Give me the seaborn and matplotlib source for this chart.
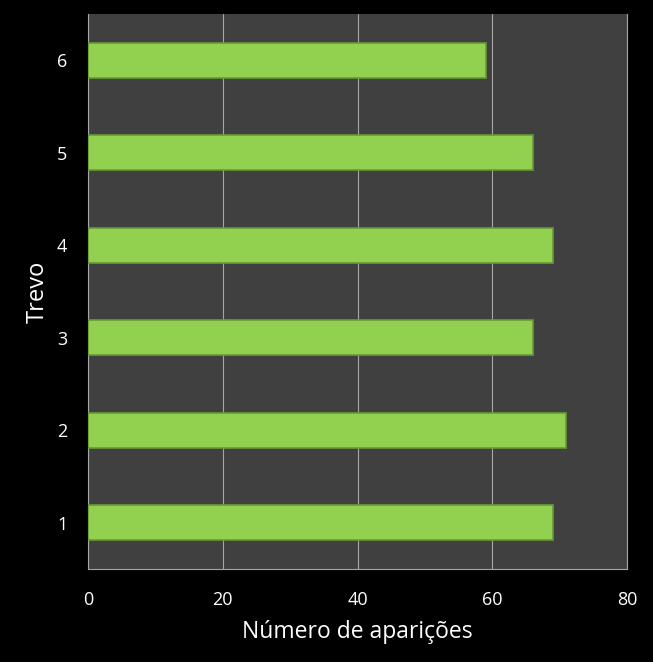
import matplotlib.pyplot as plt
import seaborn as sns
import pandas as pd

trevos = ["1", "2", "3", "4", "5", "6"]
aparicoes = [69, 71, 66, 69, 66, 59]

df = pd.DataFrame({"Trevo": trevos, "Aparicoes": aparicoes})

sns.set_style("dark")
plt.rcParams["font.family"] = ["Open Sans", "DejaVu Sans"]

fig = plt.figure(figsize=(6.53, 6.62), dpi=100, facecolor="black")
ax = fig.add_axes([0.1348, 0.1405, 0.8254, 0.8384])
ax.set_facecolor("#404040")

sns.barplot(data=df, x="Aparicoes", y="Trevo", order=trevos[::-1], orient="h",
            color="#92d050", saturation=1, width=0.38, edgecolor="#6a9a35",
            linewidth=1.2, ax=ax, zorder=3)

ax.set_xlim(0, 80)
ax.set_xticks([0, 20, 40, 60, 80])
ax.set_ylim(5.5, -0.5)
ax.grid(axis="x", color="#a6a6a6", linewidth=0.8, zorder=0)
ax.grid(axis="y", visible=False)
ax.set_axisbelow(True)

for side in ["left", "bottom", "right", "top"]:
    ax.spines[side].set_visible(True)
    ax.spines[side].set_color("#a6a6a6")
    ax.spines[side].set_linewidth(0.8)
ax.spines["top"].set_visible(False)

ax.tick_params(colors="white", labelsize=13, length=0)
ax.tick_params(axis="x", pad=16)
ax.tick_params(axis="y", pad=15)
ax.set_xlabel("Número de aparições", color="white", fontsize=16.5, labelpad=8)
ax.set_ylabel("Trevo", color="white", fontsize=17, labelpad=5)

fig.savefig("out.png", dpi=100, facecolor="black")
